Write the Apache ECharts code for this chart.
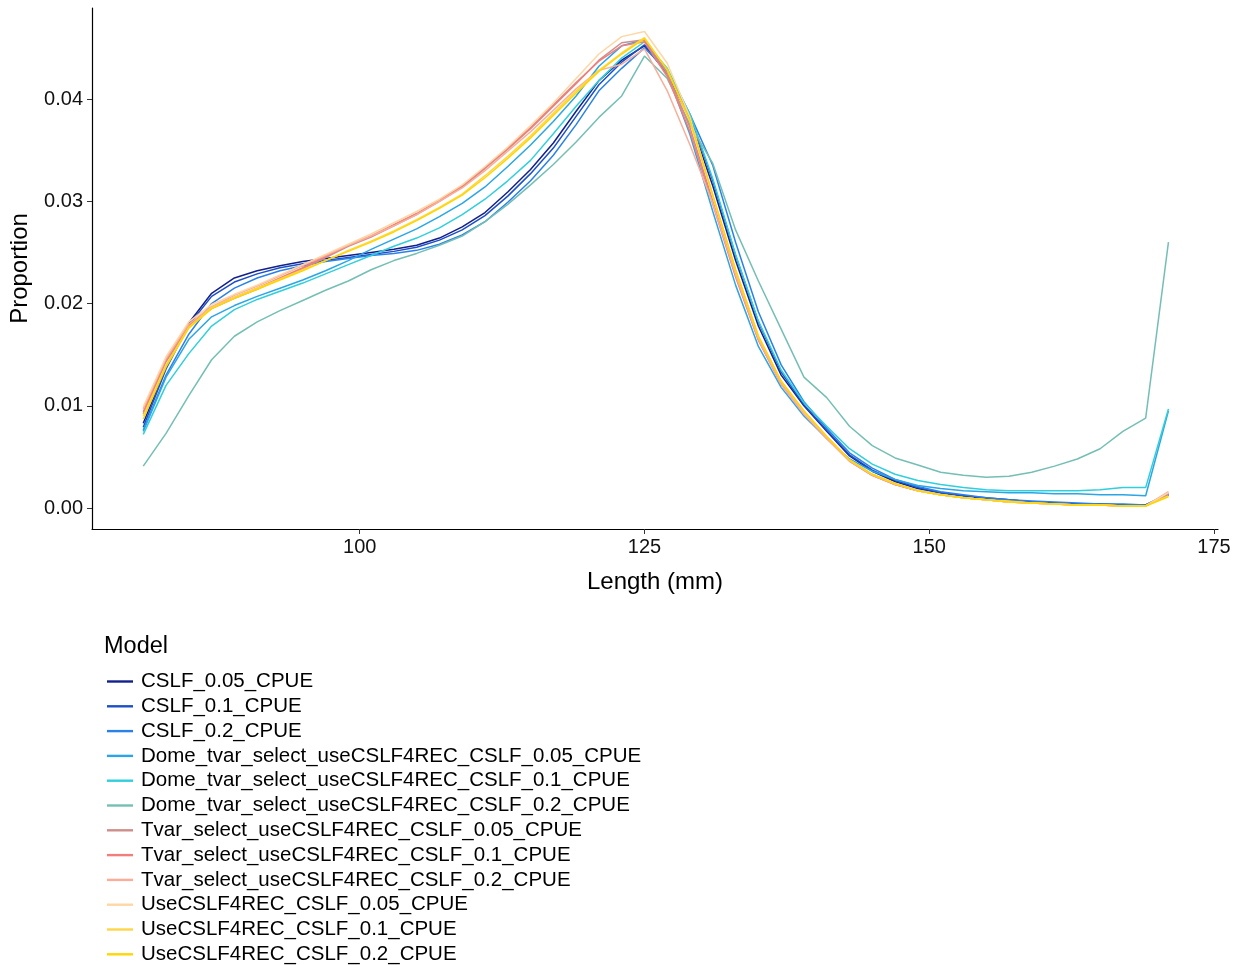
<!DOCTYPE html>
<html>
<head>
<meta charset="utf-8">
<script src="https://cdn.jsdelivr.net/npm/echarts@6/dist/echarts.min.js"></script>
<style>
html, body { margin: 0; padding: 0; background: #fff; }
#chart { width: 1244px; height: 965px; }
</style>
</head>
<body>
<div id="chart"></div>
<script>
// length classes (mm)
const lengths = [81, 83, 85, 87, 89, 91, 93, 95, 97, 99, 101, 103, 105, 107, 109, 111, 113, 115, 117, 119,
  121, 123, 125, 127, 129, 131, 133, 135, 137, 139, 141, 143, 145, 147, 149, 151, 153, 155, 157, 159,
  161, 163, 165, 167, 169, 171]

const xTicks = [100, 125, 150, 175]
const yTicks = [0, 0.01, 0.02, 0.03, 0.04]

const modelNames = [
  'CSLF_0.05_CPUE',
  'CSLF_0.1_CPUE',
  'CSLF_0.2_CPUE',
  'Dome_tvar_select_useCSLF4REC_CSLF_0.05_CPUE',
  'Dome_tvar_select_useCSLF4REC_CSLF_0.1_CPUE',
  'Dome_tvar_select_useCSLF4REC_CSLF_0.2_CPUE',
  'Tvar_select_useCSLF4REC_CSLF_0.05_CPUE',
  'Tvar_select_useCSLF4REC_CSLF_0.1_CPUE',
  'Tvar_select_useCSLF4REC_CSLF_0.2_CPUE',
  'UseCSLF4REC_CSLF_0.05_CPUE',
  'UseCSLF4REC_CSLF_0.1_CPUE',
  'UseCSLF4REC_CSLF_0.2_CPUE'
]

const cslf005 = [0.0083, 0.0138, 0.0181, 0.0210, 0.0225, 0.0232, 0.0237, 0.0241, 0.0244, 0.0247,
  0.0250, 0.0253, 0.0257, 0.0264, 0.0275, 0.0289, 0.0309, 0.0331, 0.0357, 0.0388,
  0.0418, 0.0438, 0.0452, 0.0425, 0.0380, 0.0315, 0.0242, 0.0178, 0.0130, 0.0100,
  0.0075, 0.0051, 0.0036, 0.0026, 0.0019, 0.0015, 0.0012, 0.0009, 0.0008, 0.0006,
  0.0005, 0.0004, 0.0004, 0.0003, 0.0003, 0.0013]
const cslf01 = [0.0079, 0.0136, 0.0179, 0.0207, 0.0221, 0.0229, 0.0235, 0.0239, 0.0242, 0.0245,
  0.0248, 0.0251, 0.0255, 0.0262, 0.0272, 0.0286, 0.0305, 0.0327, 0.0352, 0.0383,
  0.0414, 0.0436, 0.0453, 0.0428, 0.0384, 0.0320, 0.0247, 0.0182, 0.0133, 0.0101,
  0.0076, 0.0052, 0.0037, 0.0027, 0.0020, 0.0015, 0.0012, 0.0010, 0.0008, 0.0006,
  0.0005, 0.0004, 0.0004, 0.0003, 0.0003, 0.0013]
const cslf02 = [0.0076, 0.0130, 0.0170, 0.0200, 0.0215, 0.0225, 0.0232, 0.0237, 0.0241, 0.0244,
  0.0247, 0.0249, 0.0252, 0.0258, 0.0267, 0.0280, 0.0299, 0.0320, 0.0345, 0.0375,
  0.0408, 0.0430, 0.0450, 0.0428, 0.0385, 0.0335, 0.0260, 0.0192, 0.0140, 0.0104,
  0.0078, 0.0054, 0.0039, 0.0028, 0.0021, 0.0016, 0.0013, 0.0010, 0.0008, 0.0007,
  0.0006, 0.0005, 0.0004, 0.0004, 0.0003, 0.0014]
const dome005 = [0.0075, 0.0128, 0.0165, 0.0187, 0.0198, 0.0207, 0.0215, 0.0223, 0.0232, 0.0242,
  0.0253, 0.0263, 0.0273, 0.0285, 0.0298, 0.0314, 0.0334, 0.0355, 0.0378, 0.0403,
  0.0432, 0.0452, 0.0458, 0.0425, 0.0365, 0.0290, 0.0218, 0.0158, 0.0118, 0.0090,
  0.0068, 0.0048, 0.0036, 0.0028, 0.0022, 0.0019, 0.0017, 0.0016, 0.0015, 0.0015,
  0.0014, 0.0014, 0.0013, 0.0013, 0.0012, 0.0095]
const dome01 = [0.0072, 0.0120, 0.0151, 0.0178, 0.0194, 0.0204, 0.0212, 0.0220, 0.0229, 0.0238,
  0.0247, 0.0256, 0.0264, 0.0274, 0.0287, 0.0302, 0.0320, 0.0340, 0.0366, 0.0393,
  0.0418, 0.0440, 0.0456, 0.0430, 0.0385, 0.0322, 0.0248, 0.0183, 0.0135, 0.0103,
  0.0080, 0.0058, 0.0043, 0.0033, 0.0027, 0.0023, 0.0020, 0.0018, 0.0017, 0.0017,
  0.0017, 0.0017, 0.0018, 0.0020, 0.0020, 0.0097]
const dome02 = [0.0041, 0.0073, 0.0110, 0.0145, 0.0168, 0.0182, 0.0193, 0.0203, 0.0213, 0.0222,
  0.0233, 0.0242, 0.0249, 0.0257, 0.0266, 0.0280, 0.0297, 0.0316, 0.0336, 0.0358,
  0.0382, 0.0403, 0.0442, 0.0420, 0.0375, 0.0337, 0.0272, 0.0222, 0.0175, 0.0128,
  0.0108, 0.0080, 0.0061, 0.0049, 0.0042, 0.0035, 0.0032, 0.0030, 0.0031, 0.0035,
  0.0041, 0.0048, 0.0058, 0.0075, 0.0088, 0.0260]
const tvar005 = [0.0092, 0.0143, 0.0178, 0.0195, 0.0205, 0.0214, 0.0224, 0.0234, 0.0245, 0.0256,
  0.0265, 0.0276, 0.0287, 0.0300, 0.0314, 0.0332, 0.0351, 0.0371, 0.0393, 0.0415,
  0.0438, 0.0455, 0.0458, 0.0425, 0.0372, 0.0300, 0.0228, 0.0165, 0.0122, 0.0093,
  0.0069, 0.0046, 0.0032, 0.0023, 0.0017, 0.0013, 0.0010, 0.0008, 0.0006, 0.0005,
  0.0004, 0.0003, 0.0003, 0.0002, 0.0002, 0.0014]
const tvar01 = [0.0094, 0.0145, 0.0179, 0.0196, 0.0206, 0.0215, 0.0225, 0.0235, 0.0246, 0.0257,
  0.0266, 0.0277, 0.0288, 0.0301, 0.0315, 0.0333, 0.0352, 0.0372, 0.0394, 0.0416,
  0.0437, 0.0452, 0.0456, 0.0422, 0.0368, 0.0297, 0.0226, 0.0164, 0.0121, 0.0092,
  0.0068, 0.0046, 0.0032, 0.0023, 0.0017, 0.0013, 0.0010, 0.0008, 0.0006, 0.0005,
  0.0004, 0.0003, 0.0003, 0.0002, 0.0002, 0.0015]
const tvar02 = [0.0097, 0.0146, 0.0180, 0.0197, 0.0208, 0.0217, 0.0227, 0.0237, 0.0247, 0.0257,
  0.0266, 0.0276, 0.0287, 0.0300, 0.0313, 0.0330, 0.0349, 0.0368, 0.0389, 0.0410,
  0.0428, 0.0434, 0.0449, 0.0408, 0.0355, 0.0298, 0.0228, 0.0165, 0.0121, 0.0092,
  0.0068, 0.0046, 0.0032, 0.0023, 0.0017, 0.0013, 0.0010, 0.0008, 0.0006, 0.0005,
  0.0004, 0.0003, 0.0003, 0.0002, 0.0002, 0.0016]
const use005 = [0.0099, 0.0148, 0.0182, 0.0199, 0.0209, 0.0218, 0.0228, 0.0238, 0.0248, 0.0258,
  0.0268, 0.0279, 0.0290, 0.0302, 0.0316, 0.0334, 0.0353, 0.0374, 0.0396, 0.0420,
  0.0444, 0.0461, 0.0466, 0.0435, 0.0382, 0.0306, 0.0233, 0.0168, 0.0124, 0.0094,
  0.0070, 0.0047, 0.0033, 0.0024, 0.0017, 0.0013, 0.0010, 0.0008, 0.0006, 0.0005,
  0.0004, 0.0003, 0.0003, 0.0002, 0.0002, 0.0015]
const use01 = [0.0090, 0.0140, 0.0177, 0.0196, 0.0206, 0.0215, 0.0224, 0.0233, 0.0242, 0.0252,
  0.0261, 0.0271, 0.0282, 0.0294, 0.0307, 0.0325, 0.0344, 0.0364, 0.0386, 0.0408,
  0.0428, 0.0445, 0.0460, 0.0428, 0.0378, 0.0305, 0.0232, 0.0168, 0.0124, 0.0095,
  0.0070, 0.0047, 0.0033, 0.0024, 0.0017, 0.0013, 0.0010, 0.0008, 0.0007, 0.0005,
  0.0004, 0.0003, 0.0003, 0.0002, 0.0002, 0.0012]
const use02 = [0.0087, 0.0138, 0.0176, 0.0195, 0.0205, 0.0214, 0.0223, 0.0232, 0.0242, 0.0251,
  0.0260, 0.0270, 0.0281, 0.0293, 0.0306, 0.0323, 0.0342, 0.0362, 0.0384, 0.0406,
  0.0427, 0.0444, 0.0459, 0.0429, 0.0379, 0.0306, 0.0233, 0.0168, 0.0124, 0.0095,
  0.0070, 0.0047, 0.0033, 0.0024, 0.0017, 0.0013, 0.0010, 0.0008, 0.0006, 0.0005,
  0.0004, 0.0003, 0.0003, 0.0002, 0.0002, 0.0011]

const allValues = [cslf005, cslf01, cslf02, dome005, dome01, dome02, tvar005, tvar01, tvar02, use005, use01, use02]
const colors = ['#13208a', '#1d4fc6', '#2a82e8', '#2aa6e6', '#30cfdc', '#74bfb4',
  '#cf8e8c', '#f27d7a', '#fbad98', '#ffd6a5', '#ffd54a', '#ffd700']

const chart = echarts.init(document.getElementById('chart'))
const font = 'Liberation Sans, Arial, sans-serif'

const series = modelNames.map((name, i) => ({
  type: 'line',
  name: name,
  data: lengths.map((l, j) => [l, allValues[i][j]]),
  symbol: 'none',
  lineStyle: { width: 1.5, color: colors[i] },
  itemStyle: { color: colors[i] },
  emphasis: { disabled: true },
  animation: false
}))

const option = {
  backgroundColor: '#fff',
  color: colors,
  title: {
    text: 'Model',
    left: 99,
    top: 630,
    textStyle: { fontFamily: font, fontSize: 23.5, fontWeight: 'normal', color: '#000' }
  },
  legend: {
    orient: 'vertical',
    left: 102,
    top: 666,
    height: 300,
    itemWidth: 26,
    itemHeight: 2.4,
    itemGap: 3.8,
    icon: 'rect',
    itemStyle: { borderWidth: 0 },
    textStyle: { fontFamily: font, fontSize: 20.5, lineHeight: 21, color: '#000', padding: [0, 0, 0, 3] },
    data: modelNames
  },
  grid: { left: 91, right: 26, top: 8, bottom: 436, containLabel: false },
  xAxis: {
    type: 'value',
    min: 76.5,
    max: 175.35,
    name: 'Length (mm)',
    nameLocation: 'middle',
    nameGap: 41,
    nameTextStyle: { fontFamily: font, fontSize: 24, color: '#000' },
    axisLine: { onZero: false, lineStyle: { color: '#000', width: 1.2 } },
    axisTick: { show: true, length: 5, customValues: xTicks, lineStyle: { color: '#333' } },
    axisLabel: { customValues: xTicks, margin: 8, fontFamily: font, fontSize: 20, color: '#111' },
    splitLine: { show: false }
  },
  yAxis: {
    type: 'value',
    min: -0.00205,
    max: 0.0489,
    name: 'Proportion',
    nameLocation: 'middle',
    nameGap: 60,
    nameRotate: 90,
    nameTextStyle: { fontFamily: font, fontSize: 24, color: '#000' },
    axisLine: { show: true, onZero: false, lineStyle: { color: '#000', width: 1.2 } },
    axisTick: { show: true, length: 5, customValues: yTicks, lineStyle: { color: '#333' } },
    axisLabel: {
      customValues: yTicks,
      margin: 9,
      fontFamily: font,
      fontSize: 20,
      color: '#111',
      formatter: v => v.toFixed(2)
    },
    splitLine: { show: false }
  },
  series: series
}

chart.setOption(option)
</script>
</body>
</html>
